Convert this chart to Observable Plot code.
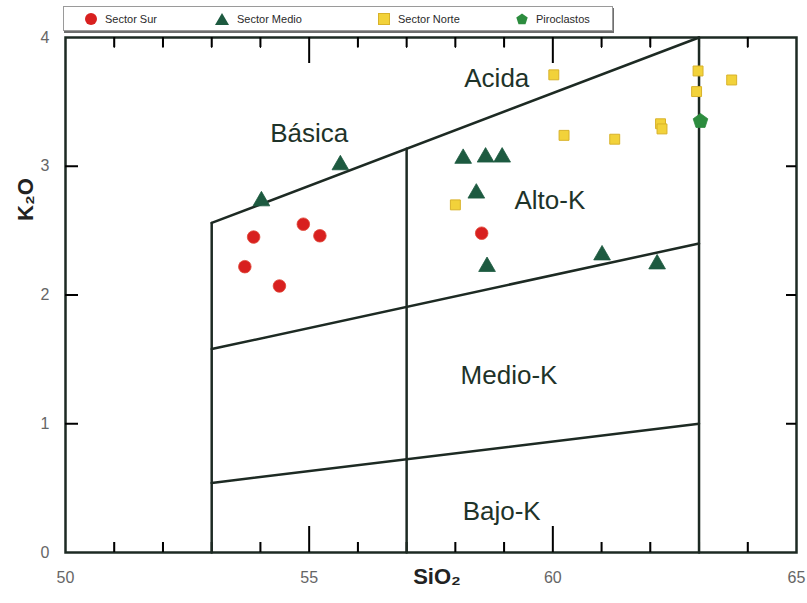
<!DOCTYPE html>
<html>
<head>
<meta charset="utf-8">
<script src="https://cdn.jsdelivr.net/npm/d3@7"></script>
<script src="https://cdn.jsdelivr.net/npm/@observablehq/plot@0.6"></script>
<style>
  html, body { margin: 0; padding: 0; background: #fff; }
  #wrap { position: relative; width: 807px; height: 603px; }
  #base { position: absolute; left: 0; top: 0; }
  #over { position: absolute; left: 0; top: 0; }
  #legend { position: absolute; left: 63px; top: 6px; width: 548px; height: 23px;
    border: 1px solid #9a9a9a; box-shadow: 1px 2px 0 #6f6f6f; background: #fff;
    font-family: "Liberation Sans Narrow", "Liberation Sans", Arial, sans-serif; font-size: 11px; color: #2a2a2a; }
  .li { position: absolute; top: 0; height: 23px; display: flex; align-items: center; }
  .li .sym { margin-right: 7px; }
</style>
</head>
<body>
<div id="wrap">
  <div id="base"></div>
  <div id="over"></div>
  <div id="legend"></div>
</div>
<script>
// ---- Data ----
const surSiO2 = [53.68, 53.86, 54.39, 54.88, 55.22, 58.54];
const surK2O  = [2.22, 2.45, 2.07, 2.55, 2.46, 2.48];

const medioSiO2 = [54.02, 55.64, 58.16, 58.62, 58.96, 58.43, 58.65, 61.01, 62.14];
const medioK2O  = [2.73, 3.01, 3.06, 3.07, 3.07, 2.79, 2.22, 2.31, 2.24];

const norteSiO2 = [58.0, 60.02, 60.23, 61.27, 62.21, 62.24, 62.98, 62.95, 63.67];
const norteK2O  = [2.70, 3.71, 3.24, 3.21, 3.33, 3.29, 3.74, 3.58, 3.67];

const piroSiO2 = [63.03];
const piroK2O  = [3.35];

// Classification boundaries (SiO2, K2O)
const boundaryId   = ["acida","acida", "altoK","altoK", "bajoK","bajoK", "v53","v53", "v57","v57", "v63","v63"];
const boundarySiO2 = [53, 63,   53, 63,   53, 63,   53, 53,   57, 57,   63, 63];
const boundaryK2O  = [2.56, 4.0, 1.58, 2.40, 0.54, 1.0, 0, 2.56, 0, 3.136, 0, 4.0];

// Field labels
const fieldNames = ["Acida", "Básica", "Alto-K", "Medio-K", "Bajo-K"];
const fieldSiO2  = [58.85, 55.0, 59.94, 59.1, 58.95];
const fieldK2O   = [3.68, 3.25, 2.73, 1.37, 0.32];

// Axis ticks
const xTickLabels = [50, 55, 60, 65];
const xMinorTicks = [51, 52, 53, 54, 56, 57, 58, 59, 61, 62, 63, 64];
const xMajorTicks = [55, 60];
const yTicks = [0, 1, 2, 3, 4];
const yInnerTicks = [1, 2, 3];

const legendNames = ["Sector Sur", "Sector Medio", "Sector Norte", "Piroclastos"];

// ---- Build ----
const zip = (xs, ys) => xs.map((x, i) => ({x, y: ys[i]}));
const sur = zip(surSiO2, surK2O);
const medio = zip(medioSiO2, medioK2O);
const norte = zip(norteSiO2, norteK2O);
const piro = zip(piroSiO2, piroK2O);
const boundaries = boundaryId.map((id, i) => ({id, x: boundarySiO2[i], y: boundaryK2O[i]}));
const fields = fieldNames.map((t, i) => ({t, x: fieldSiO2[i], y: fieldK2O[i]}));

const ink = "#1d2a23";
const tickInk = "black";
const pentagon = {
  draw(context, size) {
    const R = Math.sqrt(size) * 0.62;
    for (let i = 0; i < 5; i++) {
      const a = -Math.PI / 2 + i * 2 * Math.PI / 5;
      const qx = R * Math.cos(a), qy = R * Math.sin(a);
      if (i === 0) context.moveTo(qx, qy); else context.lineTo(qx, qy);
    }
    context.closePath();
  }
};

const xDom = [50, 65], yDom = [0, 4];
const frameH = 603 - 37 - 51;
const frameW = 807 - 65 - 11;
const tyLen = (p) => p * (yDom[1] - yDom[0]) / frameH;
const txLen = (p) => p * (xDom[1] - xDom[0]) / frameW;
const layout = {width: 807, height: 603, marginLeft: 65, marginRight: 11, marginTop: 37, marginBottom: 51};

// Layer 1: frame, axes and inward ticks
const base = Plot.plot({
  ...layout,
  x: {domain: xDom},
  y: {domain: yDom},
  style: {fontFamily: "'Liberation Sans', Arial, sans-serif", background: "#fff"},
  marks: [
    Plot.frame({stroke: ink, strokeWidth: 2.5, fill: "none"}),
    Plot.axisX(xTickLabels, {tickSize: 0, tickPadding: 19, label: null, fontSize: 16, color: "#666", tickFormat: "d"}),
    Plot.axisY(yTicks, {tickSize: 0, tickPadding: 16, label: null, fontSize: 16, color: "#666", tickFormat: "d"}),
    Plot.ruleX(xMinorTicks, {x: d => d, y1: 0, y2: tyLen(10), stroke: tickInk, strokeWidth: 2}),
    Plot.ruleX(xMinorTicks, {x: d => d, y1: 4, y2: 4 - tyLen(10), stroke: tickInk, strokeWidth: 2}),
    Plot.ruleX(xMajorTicks, {x: d => d, y1: 0, y2: tyLen(26), stroke: tickInk, strokeWidth: 2}),
    Plot.ruleX(xMajorTicks, {x: d => d, y1: 4, y2: 4 - tyLen(26), stroke: tickInk, strokeWidth: 2}),
    Plot.ruleY(yInnerTicks, {y: d => d, x1: 50, x2: 50 + txLen(13), stroke: tickInk, strokeWidth: 2}),
    Plot.ruleY(yInnerTicks, {y: d => d, x1: 65, x2: 65 - txLen(10), stroke: tickInk, strokeWidth: 2}),
    Plot.axisX(xMinorTicks, {anchor: "top", tickSize: 10, dy: 10, tickFormat: () => "", label: null, stroke: tickInk}),
    Plot.axisX(xMinorTicks, {anchor: "bottom", tickSize: 10, dy: -10, tickFormat: () => "", label: null, stroke: tickInk})
  ]
});
document.getElementById("base").appendChild(base);

// Layer 2: classification lines, field names, samples, axis titles
const over = Plot.plot({
  ...layout,
  x: {domain: xDom, axis: null},
  y: {domain: yDom, axis: null},
  style: {fontFamily: "'Liberation Sans', Arial, sans-serif", background: "transparent"},
  marks: [
    Plot.line(boundaries, {x: "x", y: "y", z: "id", stroke: ink, strokeWidth: 2.5}),
    Plot.text(fields, {x: "x", y: "y", text: "t", fontSize: 26, fill: "#1e3329"}),
    Plot.dot(sur, {x: "x", y: "y", r: 6.3, fill: "#d8201f", stroke: "#e04a3a", strokeWidth: 0.8}),
    Plot.dot(medio, {x: "x", y: "y", symbol: "triangle", r: 6.2, fill: "#1d5a40", stroke: "#1d5a40", strokeWidth: 0.8}),
    Plot.dot(norte, {x: "x", y: "y", symbol: "square", r: 5.6, fill: "#f2d23a", stroke: "#d8b22a", strokeWidth: 1}),
    Plot.dot(piro, {x: "x", y: "y", symbol: pentagon, r: 7, fill: "#2c8c3e", stroke: "#2c8c3e", strokeWidth: 0.8}),
    Plot.text(["SiO₂"], {frameAnchor: "bottom", dy: 31, dx: 6, fontSize: 22, fontWeight: "bold", fill: "#222"}),
    Plot.text(["K₂O"], {frameAnchor: "left", dx: -40, dy: -74, rotate: -90, fontSize: 22, fontWeight: "bold", fill: "#222"})
  ]
});
document.getElementById("over").appendChild(over);

// ---- Legend ----
const legendSymbols = [
  '<svg class="sym" width="14" height="14"><circle cx="7" cy="7" r="6" fill="#d8201f"/></svg>',
  '<svg class="sym" width="16" height="14"><path d="M8 1 L15 13 L1 13 Z" fill="#1d5a40"/></svg>',
  '<svg class="sym" width="14" height="14"><rect x="1.5" y="1.5" width="11" height="11" fill="#f2d23a" stroke="#d8b22a"/></svg>',
  '<svg class="sym" width="14" height="14"><path d="M7 1.5 L12.7 5.6 L10.5 12.3 L3.5 12.3 L1.3 5.6 Z" fill="#2c8c3e"/></svg>'
];
const legendLeft = [20, 150, 313, 451];
const legend = document.getElementById("legend");
legendNames.forEach((name, i) => {
  const el = document.createElement("div");
  el.className = "li";
  el.style.left = legendLeft[i] + "px";
  el.innerHTML = legendSymbols[i] + "<span>" + name + "</span>";
  legend.appendChild(el);
});
</script>
</body>
</html>
